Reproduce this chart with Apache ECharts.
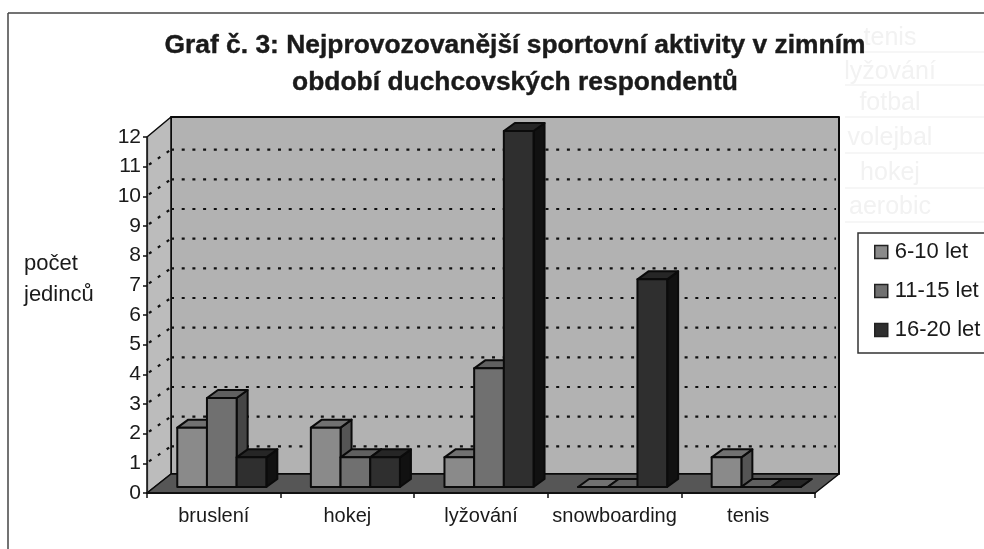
<!DOCTYPE html>
<html>
<head>
<meta charset="utf-8">
<style>html,body{margin:0;padding:0;background:#fff}#chart{width:984px;height:549px}</style>
<script src="https://cdn.jsdelivr.net/npm/echarts@6/dist/echarts.min.js"></script>
</head>
<body>
<div id="chart"></div>
<script>
// Sport categories and counts of respondents per age group
const categories = ['bruslení', 'hokej', 'lyžování', 'snowboarding', 'tenis'];
const age6to10 = [2, 2, 1, 0, 1];
const age11to15 = [3, 1, 4, 0, 0];
const age16to20 = [1, 1, 12, 7, 0];
const seriesNames = ['6-10 let', '11-15 let', '16-20 let'];
const gridValues = [1, 2, 3, 4, 5, 6, 7, 8, 9, 10, 11];
// Faint words showing through the paper from the following page
const showThrough = ['tenis', 'lyžování', 'fotbal', 'volejbal', 'hokej', 'aerobic'];

// Shades per age group: front, top and right faces of each box
const shades = [
  { front: '#8a8a8a', top: '#717171', side: '#555555' },
  { front: '#707070', top: '#606060', side: '#454545' },
  { front: '#2f2f2f', top: '#262626', side: '#111111' }
];

// Oblique projection of the 3D box: total depth, bar inset and bar depth
const DEPTH = { x: 24, y: 19 };
const GRID_RISE = 17;
const INSET = { x: 8, y: 6 };
const BOX = { x: 11, y: 8 };

const chart = echarts.init(document.getElementById('chart'), null, { renderer: 'canvas' });

function poly(points, fill, lineWidth) {
  return {
    type: 'polygon',
    shape: { points },
    style: { fill, stroke: '#0b0b0b', lineWidth: lineWidth === undefined ? 2 : lineWidth, lineJoin: 'round' }
  };
}

// Back wall, side wall and floor of the plot box
function renderWalls(params) {
  const c = params.coordSys;
  const l = c.x, r = c.x + c.width, t = c.y, b = c.y + c.height;
  const d = DEPTH;
  return {
    type: 'group',
    children: [
      poly([[l + d.x, t - d.y - 1], [r + d.x, t - d.y - 1], [r + d.x, b - d.y], [l + d.x, b - d.y]], '#b2b2b2', 2),
      poly([[l, t], [l + d.x, t - d.y - 1], [l + d.x, b - d.y], [l, b]], '#bcbcbc', 1.5),
      poly([[l, b], [l + d.x, b - d.y], [r + d.x, b - d.y], [r, b]], '#565656', 1.5)
    ]
  };
}

// One dotted gridline per value, across the side wall and along the back wall
function renderGridline(params, api) {
  const c = params.coordSys;
  const y = api.coord([0, api.value(0)])[1];
  const dotted = { stroke: '#111', lineWidth: 2.2, lineDash: [3, 7.7], fill: null };
  return {
    type: 'group',
    children: [
      { type: 'line', shape: { x1: c.x + 2, y1: y - 2, x2: c.x + DEPTH.x, y2: y - GRID_RISE }, style: dotted },
      { type: 'line', shape: { x1: c.x + DEPTH.x, y1: y - GRID_RISE, x2: c.x + c.width + DEPTH.x - 3, y2: y - GRID_RISE }, style: dotted }
    ]
  };
}

// Box for one age group inside a category band
function boxRenderer(seriesIndex) {
  return function (params, api) {
    const cat = api.value(0);
    const base = api.coord([cat, 0]);
    const top = api.coord([cat, api.value(1)]);
    const band = api.size([1, 0])[0];
    const w = band * 2 / 9;
    const x0 = base[0] - band / 3 + seriesIndex * w + INSET.x;
    const x1 = x0 + w;
    const yb = base[1] - INSET.y;
    const yt = top[1] - INSET.y;
    const s = shades[seriesIndex];
    return {
      type: 'group',
      children: [
        poly([[x1, yt], [x1 + BOX.x, yt - BOX.y], [x1 + BOX.x, yb - BOX.y], [x1, yb]], s.side),
        poly([[x0, yt], [x0 + BOX.x, yt - BOX.y], [x1 + BOX.x, yt - BOX.y], [x1, yt]], s.top),
        poly([[x0, yt], [x1, yt], [x1, yb], [x0, yb]], s.front)
      ]
    };
  };
}

function barSeries(index, values) {
  return {
    type: 'custom',
    name: seriesNames[index],
    coordinateSystem: 'cartesian2d',
    clip: false,
    renderItem: boxRenderer(index),
    encode: { x: 0, y: 1 },
    itemStyle: { color: shades[index].front },
    data: values.map((v, i) => [i, v]),
    z: 4
  };
}

const TEXT_FONT = '"Liberation Sans", Arial, sans-serif';
const INK = '#1a1a1a';

// Faint lines and words seen through the sheet on the right
const showThroughRows = [38, 72, 103, 138, 173, 207];
const showThroughRules = [52, 85, 117, 153, 188, 222];
const showThroughGraphics = showThrough.map((word, i) => ({
  type: 'text',
  silent: true,
  z: -1,
  style: { x: 890, y: showThroughRows[i], text: word, align: 'center', verticalAlign: 'middle', fill: '#f2f2f2', font: '25px ' + TEXT_FONT }
})).concat(showThroughRules.map(y => ({
  type: 'line',
  silent: true,
  z: -1,
  shape: { x1: 845, y1: y, x2: 984, y2: y },
  style: { stroke: '#f6f6f6', lineWidth: 2 }
})));

chart.setOption({
  animation: false,
  backgroundColor: '#ffffff',
  title: {
    text: 'Graf č. 3: Nejprovozovanější sportovní aktivity v zimním\nobdobí duchcovských respondentů',
    left: 510,
    top: 22,
    textAlign: 'center',
    textStyle: { fontFamily: TEXT_FONT, fontWeight: 'bold', fontSize: 26.4, lineHeight: 37, color: INK, textBorderColor: INK, textBorderWidth: 0.4 }
  },
  legend: {
    left: 858,
    top: 233,
    orient: 'vertical',
    data: seriesNames,
    icon: 'rect',
    itemWidth: 13,
    itemHeight: 13,
    itemGap: 17,
    padding: [8, 30, 12, 16],
    borderColor: '#333',
    borderWidth: 1.5,
    backgroundColor: '#fff',
    itemStyle: { borderColor: '#222', borderWidth: 1.5 },
    textStyle: { fontFamily: TEXT_FONT, fontSize: 22, color: INK, padding: [0, 0, 0, 2] }
  },
  grid: { left: 147, right: 169, top: 137, bottom: 56 },
  xAxis: {
    type: 'category',
    data: categories,
    axisLine: { lineStyle: { color: '#111', width: 2 } },
    axisTick: { show: true, length: 5, alignWithLabel: false, lineStyle: { color: '#111', width: 1.5 } },
    axisLabel: { interval: 0, fontFamily: TEXT_FONT, fontSize: 20, color: INK, margin: 13 },
    splitLine: { show: false },
    z: 6
  },
  yAxis: {
    type: 'value',
    min: 0,
    max: 12,
    interval: 1,
    axisLine: { show: true, lineStyle: { color: '#222', width: 1.2 } },
    axisTick: { show: true, length: 4, lineStyle: { color: '#111', width: 1.5 } },
    axisLabel: { fontFamily: TEXT_FONT, fontSize: 21, color: INK, margin: 6 },
    splitLine: { show: false },
    z: 6
  },
  graphic: showThroughGraphics.concat([
    // Axis caption, left aligned in two rows
    { type: 'text', silent: true, style: { x: 24, y: 264, text: 'počet', align: 'left', verticalAlign: 'middle', fill: INK, font: '22px ' + TEXT_FONT } },
    { type: 'text', silent: true, style: { x: 24, y: 295, text: 'jedinců', align: 'left', verticalAlign: 'middle', fill: INK, font: '22px ' + TEXT_FONT } },
    // Page frame around the figure; it runs off the right and bottom edges
    { type: 'line', silent: true, shape: { x1: 8, y1: 13, x2: 984, y2: 13 }, style: { stroke: '#444', lineWidth: 1.5 } },
    { type: 'line', silent: true, shape: { x1: 8, y1: 13, x2: 8, y2: 549 }, style: { stroke: '#444', lineWidth: 1.5 } }
  ]),
  series: [
    { type: 'custom', coordinateSystem: 'cartesian2d', clip: false, renderItem: renderWalls, data: [[0, 0]], z: 1, silent: true },
    { type: 'custom', coordinateSystem: 'cartesian2d', clip: false, renderItem: renderGridline, data: gridValues.map(v => [v]), encode: { y: 0 }, z: 2, silent: true },
    barSeries(0, age6to10),
    barSeries(1, age11to15),
    barSeries(2, age16to20)
  ]
});
</script>
</body>
</html>
